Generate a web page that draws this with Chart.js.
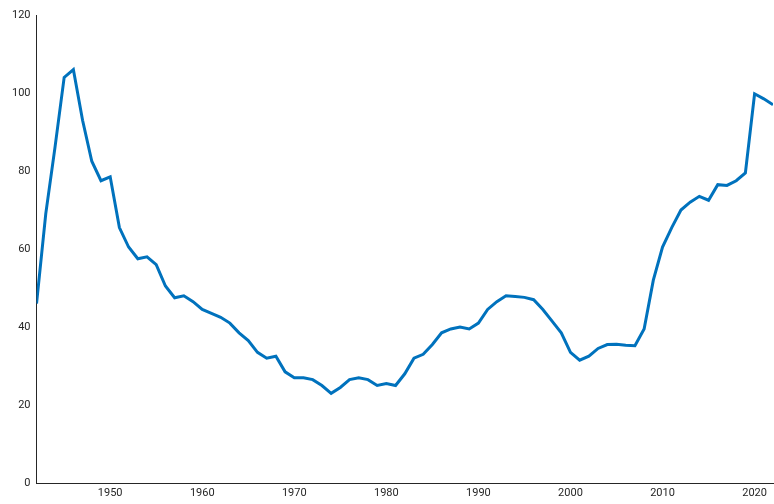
<!DOCTYPE html>
<html>
<head>
<script src="https://cdn.jsdelivr.net/npm/chart.js@4"></script>
<style>body{margin:0;background:#fff}#wrap{width:774px;height:504px}</style>
</head>
<body>
<div id="wrap"><canvas id="c"></canvas></div>
<script>
var years = [];
for (var y = 1942; y <= 2022; y++) years.push(y);
var debt = [46,69,86,104,106,93,82.5,77.5,78.5,65.5,60.5,57.5,58,56,50.5,47.5,48,46.5,44.5,43.5,
  42.5,41,38.5,36.5,33.5,32,32.5,28.5,27,27,26.5,25,23,24.5,26.5,27,26.5,25,25.5,25,
  28,32,33,35.5,38.5,39.5,40,39.5,41,44.5,46.5,48,47.8,47.6,47,44.5,41.5,38.5,33.5,31.5,
  32.5,34.5,35.5,35.6,35.3,35.2,39.5,52,60.5,65.5,70,72,73.5,72.5,76.5,76.3,77.5,79.5,99.8,98.5,97];

var points = years.map(function (yr, i) { return {x: yr, y: debt[i]}; });

new Chart(document.getElementById("c"), {
  type: 'line',
  data: {
    datasets: [{
      data: points,
      borderColor: '#0072BD',
      borderWidth: 3,
      pointRadius: 0,
      tension: 0
    }]
  },
  options: {
    responsive: true,
    maintainAspectRatio: false,
    animation: false,
    layout: { padding: { left: 6, right: 1, top: 15, bottom: 0 } },
    plugins: { legend: { display: false }, tooltip: { enabled: false } },
    scales: {
      x: {
        type: 'linear', min: 1942, max: 2022,
        afterBuildTicks: function (ax) { ax.ticks = [1950,1960,1970,1980,1990,2000,2010,2020].map(function (v) { return {value: v}; }); },
        grid: { display: false, drawTicks: false },
        border: { color: '#262626' },
        ticks: { color: '#262626', font: { family: 'Roboto', size: 11, lineHeight: 1 }, padding: 5, callback: function (v) { return v; } }
      },
      y: {
        min: 0, max: 120,
        grid: { display: false, drawTicks: false },
        border: { color: '#262626' },
        ticks: { stepSize: 20, color: '#262626', font: { family: 'Roboto', size: 11 }, padding: 6 }
      }
    }
  }
});
</script>
</body>
</html>
